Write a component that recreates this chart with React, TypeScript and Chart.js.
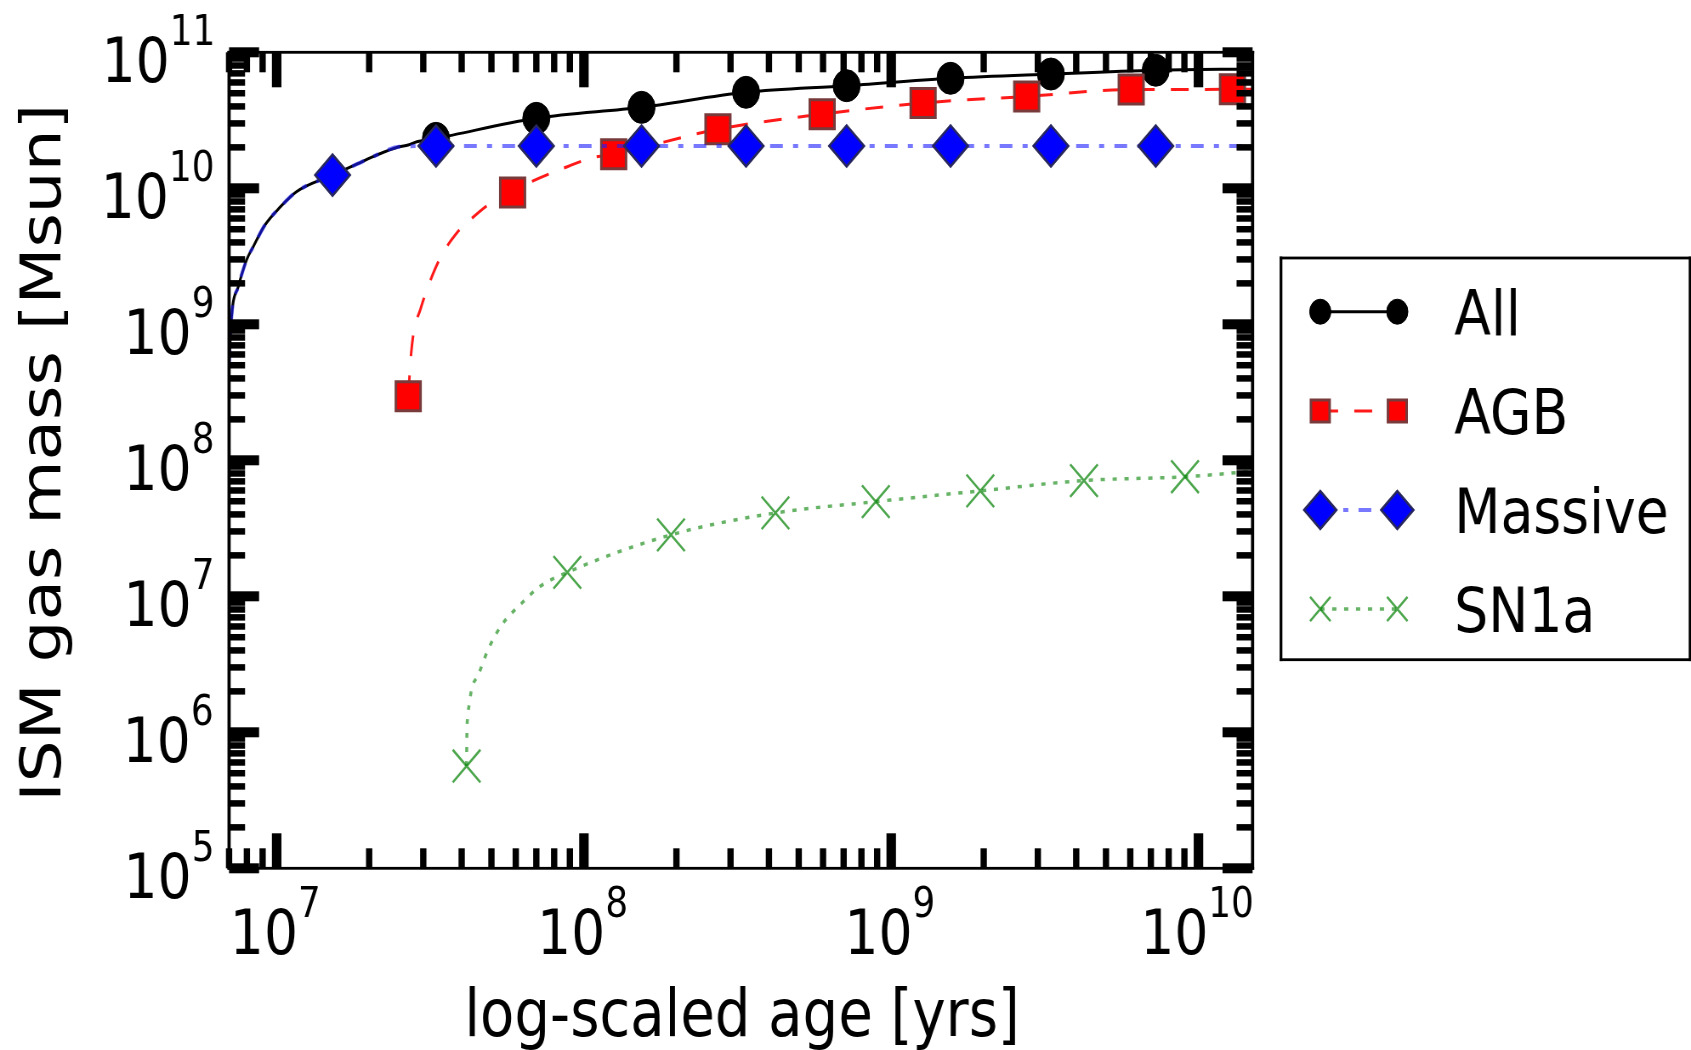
import React, { useEffect, useRef } from "react";
import { Chart, registerables } from "chart.js";

Chart.register(...registerables);

// ---------------------------------------------------------------------------
// Data: ISM gas mass returned by each stellar channel versus age.
// "Mark" arrays hold the sampled points that carry a marker, "Path" arrays the
// extra points of the same curve that are drawn without a marker.
// ---------------------------------------------------------------------------
const seriesNames = ["All", "AGB", "Massive", "SN1a"];

const allMarkAge = [3.3e7, 7.0e7, 1.54e8, 3.37e8, 7.16e8, 1.56e9, 3.31e9, 7.26e9];
const allMarkMass = [2.33e10, 3.27e10, 3.94e10, 5.08e10, 5.68e10, 6.44e10, 6.92e10, 7.38e10];
const allPathAge = [7.0e6, 7.14e6, 7.5e6, 7.98e6, 8.39e6, 9.16e6, 1.03e7, 1.16e7, 1.52e7, 1.83e7, 2.06e7, 2.5e7, 2.68e7, 2.86e7, 1.5e10];
const allPathMass = [5.0e8, 1.17e9, 1.89e9, 2.97e9, 3.72e9, 5.37e9, 7.33e9, 9.44e9, 1.25e10, 1.51e10, 1.71e10, 2.02e10, 2.08e10, 2.2e10, 7.55e10];

const agbMarkAge = [2.68e7, 5.86e7, 1.25e8, 2.73e8, 5.96e8, 1.27e9, 2.76e9, 6.04e9, 1.29e10];
const agbMarkMass = [2.96e8, 9.3e9, 1.78e10, 2.72e10, 3.51e10, 4.24e10, 4.74e10, 5.32e10, 5.34e10];
const agbPathAge = [2.74e7, 2.8e7, 2.93e7, 3.08e7, 3.4e7, 3.85e7, 4.26e7, 5.01e7, 6.76e7, 8.41e7, 1.07e8, 1.5e10];
const agbPathMass = [6.12e8, 9.08e8, 1.27e9, 1.79e9, 3.05e9, 4.67e9, 5.85e9, 7.87e9, 1.12e10, 1.38e10, 1.68e10, 5.36e10];

const massiveMarkAge = [1.52e7, 3.3e7, 7.0e7, 1.54e8, 3.37e8, 7.16e8, 1.56e9, 3.31e9, 7.26e9];
const massiveMarkMass = [1.25e10, 2.05e10, 2.05e10, 2.05e10, 2.05e10, 2.05e10, 2.05e10, 2.05e10, 2.05e10];
const massivePathAge = [7.0e6, 7.14e6, 7.5e6, 7.98e6, 8.39e6, 9.16e6, 1.03e7, 1.16e7, 1.83e7, 2.06e7, 2.5e7, 1.5e10];
const massivePathMass = [5.0e8, 1.17e9, 1.89e9, 2.97e9, 3.72e9, 5.37e9, 7.33e9, 9.44e9, 1.51e10, 1.71e10, 2.02e10, 2.05e10];

const sn1aMarkAge = [4.15e7, 8.83e7, 1.92e8, 4.2e8, 8.91e8, 1.95e9, 4.24e9, 9.04e9];
const sn1aMarkMass = [5.65e5, 1.5e7, 2.83e7, 4.1e7, 4.97e7, 5.96e7, 7.1e7, 7.57e7];
const sn1aPathAge = [4.16e7, 4.18e7, 4.24e7, 4.31e7, 4.53e7, 4.88e7, 5.4e7, 6.19e7, 7.19e7, 1.5e10];
const sn1aPathMass = [9.84e5, 1.27e6, 1.63e6, 2.08e6, 2.64e6, 4.07e6, 6.15e6, 8.63e6, 1.18e7, 8.3e7];

// Axes
const ageMin = 7.0e6;
const ageMax = 1.5e10;
const massMin = 1e5;
const massMax = 1e11;
const ageTickExponents = [7, 8, 9, 10];
const massTickExponents = [5, 6, 7, 8, 9, 10, 11];
const minorSteps = [2, 3, 4, 5, 6, 7, 8, 9];
const xAxisTitle = "log-scaled age [yrs]";
const yAxisTitle = "ISM gas mass [Msun]";

// ---------------------------------------------------------------------------
// Layout. The canvas is drawn wider than it is shown and squeezed by CSS, so
// every horizontal length in display pixels goes through hx().
// ---------------------------------------------------------------------------
const VIEW_W = 1691;
const VIEW_H = 1050;
const SQUEEZE = 0.85;
const CANVAS_W = Math.round(VIEW_W / SQUEEZE);
const CANVAS_H = VIEW_H;
const hx = (v: number) => v / SQUEEZE;

const PLOT = { left: 229, right: 1252.3, top: 52.3, bottom: 868.3 };
const FONT = "'DejaVu Sans', 'Liberation Sans', sans-serif";
const TICK_FONT = 63;
const EXP_FONT = 42;
const EXP_RAISE = 37;
const TITLE_FONT = 66;
const LEGEND_FONT = 63;

const LEGEND_BOX = { left: 1280.7, top: 258, right: 1689.7, bottom: 659.7 };
const LEGEND_ROWS = [311.7, 411, 510, 609];
const LEGEND_MARK_X = [1320, 1397];
const LEGEND_TEXT_X = 1454;

type Marker = "circle" | "rect" | "rectRot" | "crossRot";
interface SeriesStyle {
  line: string;
  width: number;
  dash: number[];
  marker: Marker;
  radius: number;
  legendRadius: number;
  fill: string;
  edge: string;
  edgeWidth: number;
}

const seriesStyle: SeriesStyle[] = [
  { line: "#000000", width: 3, dash: [], marker: "circle", radius: 16, legendRadius: 12.5, fill: "#000000", edge: "#000000", edgeWidth: 1 },
  { line: "rgba(255,0,0,0.9)", width: 3, dash: [21, 19], marker: "rect", radius: 20.5, legendRadius: 15.5, fill: "#ff0000", edge: "rgb(120,58,58)", edgeWidth: 3 },
  { line: "rgba(30,30,255,0.6)", width: 4, dash: [15, 12, 6, 12], marker: "rectRot", radius: 20.5, legendRadius: 19, fill: "#0000ff", edge: "#27275e", edgeWidth: 2.5 },
  { line: "rgba(0,128,0,0.6)", width: 3.5, dash: [5, 9], marker: "crossRot", radius: 23, legendRadius: 17, fill: "rgba(0,0,0,0)", edge: "rgba(0,128,0,0.7)", edgeWidth: 2.5 },
];

const seriesMarks: number[][][] = [
  [allMarkAge, allMarkMass],
  [agbMarkAge, agbMarkMass],
  [massiveMarkAge, massiveMarkMass],
  [sn1aMarkAge, sn1aMarkMass],
];
const seriesPaths: number[][][] = [
  [allPathAge, allPathMass],
  [agbPathAge, agbPathMass],
  [massivePathAge, massivePathMass],
  [sn1aPathAge, sn1aPathMass],
];

const toPoints = (ages: number[], masses: number[]) => ages.map((x, i) => ({ x, y: masses[i] }));

function curvePoints(i: number) {
  const pts = toPoints(seriesMarks[i][0], seriesMarks[i][1]).concat(
    toPoints(seriesPaths[i][0], seriesPaths[i][1])
  );
  pts.sort((a, b) => a.x - b.x);
  return pts;
}

function drawMarkerShape(ctx: CanvasRenderingContext2D, st: SeriesStyle, x: number, y: number, r: number) {
  ctx.save();
  ctx.setLineDash([]);
  ctx.beginPath();
  if (st.marker === "circle") {
    ctx.arc(x, y, r, 0, Math.PI * 2);
  } else if (st.marker === "rect") {
    const s = r * Math.SQRT1_2;
    ctx.rect(x - s, y - s, 2 * s, 2 * s);
  } else if (st.marker === "rectRot") {
    ctx.moveTo(x - r, y);
    ctx.lineTo(x, y - r);
    ctx.lineTo(x + r, y);
    ctx.lineTo(x, y + r);
    ctx.closePath();
  } else {
    const o = r * Math.SQRT1_2;
    ctx.moveTo(x - o, y - o);
    ctx.lineTo(x + o, y + o);
    ctx.moveTo(x + o, y - o);
    ctx.lineTo(x - o, y + o);
  }
  if (st.marker !== "crossRot") {
    ctx.fillStyle = st.fill;
    ctx.fill();
  }
  ctx.strokeStyle = st.edge;
  ctx.lineWidth = st.edgeWidth;
  ctx.stroke();
  ctx.restore();
}

// "10" with a raised exponent, centred on anchorX or right-aligned to it
function drawPower(ctx: CanvasRenderingContext2D, exponent: number, anchorX: number, baseline: number, align: "center" | "right") {
  const base = "10";
  const exp = String(exponent);
  ctx.font = `${TICK_FONT}px ${FONT}`;
  const mb = ctx.measureText(base);
  ctx.font = `${EXP_FONT}px ${FONT}`;
  const me = ctx.measureText(exp);
  let x0: number;
  if (align === "center") {
    const inkLeft = -mb.actualBoundingBoxLeft;
    const inkRight = mb.width + me.actualBoundingBoxRight;
    x0 = anchorX - (inkLeft + inkRight) / 2;
  } else {
    x0 = anchorX - mb.width - me.actualBoundingBoxRight;
  }
  ctx.font = `${TICK_FONT}px ${FONT}`;
  ctx.fillText(base, x0, baseline);
  ctx.font = `${EXP_FONT}px ${FONT}`;
  ctx.fillText(exp, x0 + mb.width, baseline - EXP_RAISE);
}

const axesPlugin = {
  id: "axesAndLegend",
  afterDraw(chart: any) {
    const ctx: CanvasRenderingContext2D = chart.ctx;
    const a = chart.chartArea;
    const xs = chart.scales.x;
    const ys = chart.scales.y;
    ctx.save();
    ctx.fillStyle = "#000";
    ctx.textAlign = "left";
    ctx.textBaseline = "alphabetic";

    // inward tick marks on all four sides
    const xTick = (v: number, len: number, w: number) => {
      const px = xs.getPixelForValue(v);
      ctx.fillRect(px - hx(w) / 2, a.top, hx(w), len);
      ctx.fillRect(px - hx(w) / 2, a.bottom - len, hx(w), len);
    };
    const yTick = (v: number, len: number, t: number) => {
      const py = ys.getPixelForValue(v);
      ctx.fillRect(a.left, py - t / 2, hx(len), t);
      ctx.fillRect(a.right - hx(len), py - t / 2, hx(len), t);
    };
    const inRange = (v: number, lo: number, hi: number) => v >= lo * (1 - 1e-9) && v <= hi * (1 + 1e-9);

    for (let d = Math.floor(Math.log10(ageMin)); d <= Math.floor(Math.log10(ageMax)); d++) {
      for (const m of minorSteps) {
        const v = m * Math.pow(10, d);
        if (inRange(v, ageMin, ageMax)) xTick(v, 20, 6.3);
      }
    }
    for (const e of ageTickExponents) xTick(Math.pow(10, e), 35, 9.5);

    for (let d = Math.log10(massMin); d < Math.log10(massMax); d++) {
      for (const m of minorSteps) {
        const v = m * Math.pow(10, d);
        if (inRange(v, massMin, massMax)) yTick(v, 16, 6.5);
      }
    }
    for (const e of massTickExponents) yTick(Math.pow(10, e), 30, 10);

    // frame
    ctx.fillRect(a.left - hx(1.6), a.top - 1.4, a.right - a.left + hx(3.2), 2.8);
    ctx.fillRect(a.left - hx(1.6), a.bottom - 1.4, a.right - a.left + hx(3.2), 2.8);
    ctx.fillRect(a.left - hx(1.6), a.top - 1.4, hx(3.2), a.bottom - a.top + 2.8);
    ctx.fillRect(a.right - hx(1.6), a.top - 1.4, hx(3.2), a.bottom - a.top + 2.8);

    // tick labels
    for (const e of ageTickExponents) {
      drawPower(ctx, e, xs.getPixelForValue(Math.pow(10, e)), a.bottom + 85.7, "center");
    }
    for (const e of massTickExponents) {
      drawPower(ctx, e, hx(212), ys.getPixelForValue(Math.pow(10, e)) + 30, "right");
    }

    // axis titles
    ctx.font = `${TITLE_FONT}px ${FONT}`;
    ctx.textAlign = "center";
    ctx.fillText(xAxisTitle, hx(742), 1036);
    ctx.save();
    ctx.translate(hx(60.3), 452.7);
    ctx.rotate(-Math.PI / 2);
    ctx.fillText(yAxisTitle, 0, 0);
    ctx.restore();

    // legend box
    const L = LEGEND_BOX;
    ctx.fillStyle = "#ffffff";
    ctx.fillRect(hx(L.left), L.top, hx(L.right - L.left), L.bottom - L.top);
    ctx.fillStyle = "#000";
    ctx.fillRect(hx(L.left - 1.4), L.top - 1.4, hx(L.right - L.left + 2.8), 2.8);
    ctx.fillRect(hx(L.left - 1.4), L.bottom - 1.4, hx(L.right - L.left + 2.8), 2.8);
    ctx.fillRect(hx(L.left - 1.4), L.top - 1.4, hx(2.8), L.bottom - L.top + 2.8);
    ctx.fillRect(hx(L.right - 1.4), L.top - 1.4, hx(2.8), L.bottom - L.top + 2.8);

    seriesNames.forEach((name, i) => {
      const st = seriesStyle[i];
      const y = LEGEND_ROWS[i];
      const x1 = hx(LEGEND_MARK_X[0]);
      const x2 = hx(LEGEND_MARK_X[1]);
      ctx.save();
      ctx.strokeStyle = st.line;
      ctx.lineWidth = st.width;
      ctx.setLineDash(st.dash);
      ctx.beginPath();
      ctx.moveTo(x1, y);
      ctx.lineTo(x2, y);
      ctx.stroke();
      ctx.restore();
      drawMarkerShape(ctx, st, x1, y, st.legendRadius);
      drawMarkerShape(ctx, st, x2, y, st.legendRadius);
      ctx.fillStyle = "#000";
      ctx.font = `${LEGEND_FONT}px ${FONT}`;
      ctx.textAlign = "left";
      ctx.fillText(name, hx(LEGEND_TEXT_X), y + 23);
    });

    ctx.restore();
  },
};

export default function App() {
  const canvasRef = useRef<HTMLCanvasElement | null>(null);

  useEffect(() => {
    document.body.style.margin = "0";
    document.body.style.overflow = "hidden";
    const canvas = canvasRef.current;
    if (!canvas) return;

    const datasets: any[] = [];
    seriesNames.forEach((name, i) => {
      const st = seriesStyle[i];
      datasets.push({
        label: name,
        data: curvePoints(i),
        borderColor: st.line,
        borderWidth: st.width,
        borderDash: st.dash,
        pointRadius: 0,
        pointHoverRadius: 0,
        fill: false,
        cubicInterpolationMode: "monotone",
        order: 8 - 2 * i,
      });
      datasets.push({
        label: name + " samples",
        data: toPoints(seriesMarks[i][0], seriesMarks[i][1]),
        showLine: false,
        pointStyle: st.marker,
        pointRadius: st.radius,
        pointHoverRadius: st.radius,
        pointBackgroundColor: st.fill,
        pointBorderColor: st.edge,
        pointBorderWidth: st.edgeWidth,
        order: 7 - 2 * i,
      });
    });

    const chart = new Chart(canvas, {
      type: "line",
      data: { datasets },
      options: {
        responsive: false,
        animation: false,
        events: [],
        layout: {
          padding: {
            left: hx(PLOT.left),
            right: CANVAS_W - hx(PLOT.right),
            top: PLOT.top,
            bottom: CANVAS_H - PLOT.bottom,
          },
        },
        plugins: {
          legend: { display: false },
          tooltip: { enabled: false },
        },
        scales: {
          x: { type: "logarithmic", min: ageMin, max: ageMax, display: false },
          y: { type: "logarithmic", min: massMin, max: massMax, display: false },
        },
      } as any,
      plugins: [axesPlugin],
    });

    return () => chart.destroy();
  }, []);

  return (
    <div style={{ width: VIEW_W, height: VIEW_H, overflow: "hidden", background: "#fff" }}>
      <canvas
        ref={canvasRef}
        width={CANVAS_W}
        height={CANVAS_H}
        style={{ width: `${VIEW_W}px`, height: `${VIEW_H}px`, display: "block" }}
      />
    </div>
  );
}
